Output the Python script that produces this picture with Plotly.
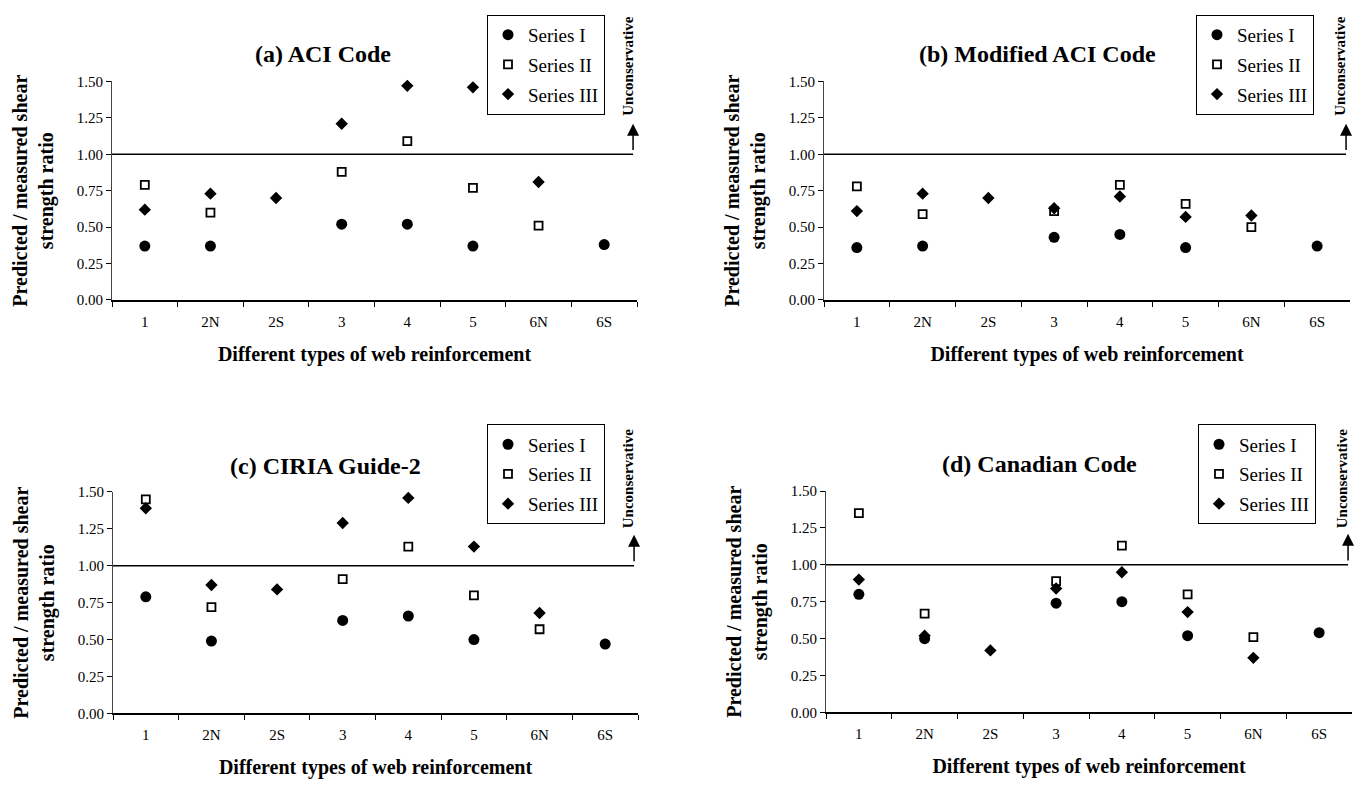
import plotly.graph_objects as go

# ---------------- data ----------------
categories = ["1", "2N", "2S", "3", "4", "5", "6N", "6S"]
series_names = ["Series I", "Series II", "Series III"]
panel_titles = ["(a) ACI Code", "(b) Modified ACI Code", "(c) CIRIA Guide-2", "(d) Canadian Code"]

aci_I = [0.37, 0.37, None, 0.52, 0.52, 0.37, None, 0.38]
aci_II = [0.79, 0.60, None, 0.88, 1.09, 0.77, 0.51, None]
aci_III = [0.62, 0.73, 0.70, 1.21, 1.47, 1.46, 0.81, None]

mod_aci_I = [0.36, 0.37, None, 0.43, 0.45, 0.36, None, 0.37]
mod_aci_II = [0.78, 0.59, None, 0.61, 0.79, 0.66, 0.50, None]
mod_aci_III = [0.61, 0.73, 0.70, 0.63, 0.71, 0.57, 0.58, None]

ciria_I = [0.79, 0.49, None, 0.63, 0.66, 0.50, None, 0.47]
ciria_II = [1.45, 0.72, None, 0.91, 1.13, 0.80, 0.57, None]
ciria_III = [1.39, 0.87, 0.84, 1.29, 1.46, 1.13, 0.68, None]

canadian_I = [0.80, 0.50, None, 0.74, 0.75, 0.52, None, 0.54]
canadian_II = [1.35, 0.67, None, 0.89, 1.13, 0.80, 0.51, None]
canadian_III = [0.90, 0.52, 0.42, 0.84, 0.95, 0.68, 0.37, None]

y_ticks = [0.0, 0.25, 0.5, 0.75, 1.0, 1.25, 1.5]
limit_ratio = 1.0

panels = [
    (aci_I, aci_II, aci_III),
    (mod_aci_I, mod_aci_II, mod_aci_III),
    (ciria_I, ciria_II, ciria_III),
    (canadian_I, canadian_II, canadian_III),
]

# ---------------- styling / layout ----------------
W, H = 1361, 790
SERIF = "Liberation Serif"
# plot boxes in pixels: left, right, top (y=1.5), bottom (y=0)
boxes = [(112, 637, 75, 298), (824, 1350, 75, 298), (113, 638, 494, 720), (826, 1352, 493, 719)]
title_pos = [(323, 47), (1037, 47), (325, 467), (1039, 465)]
legend_pos = [(605, 7), (1314, 7), (605, 425), (1316, 425)]
uncons_pos = [(628, 60), (1340, 60), (628, 481), (1342, 481)]

markers = [
    dict(symbol="circle", size=11, color="black"),
    dict(symbol="square-open", size=8, color="black", line=dict(width=1.8, color="black")),
    dict(symbol="diamond", size=9.5, color="black"),
]

fig = go.Figure()
layout = dict(
    width=W, height=H,
    margin=dict(l=0, r=0, t=0, b=0),
    paper_bgcolor="white", plot_bgcolor="white",
    font=dict(family=SERIF, color="black"),
    showlegend=True,
    shapes=[], annotations=[],
)

bounds = [k - 0.5 for k in range(len(categories) + 1)]
n_panels = len(panels)

for i, (vals, (l, r, t, b)) in enumerate(zip(panels, boxes)):
    sfx = "" if i == 0 else str(i + 1)
    xid, yid = "x" + sfx, "y" + sfx
    ox, oy = str(i + 1 + n_panels), str(i + 1 + n_panels)
    leg = "legend" + sfx

    for k, (name, v) in enumerate(zip(series_names, vals)):
        fig.add_trace(go.Scatter(
            x=categories, y=v, mode="markers", name=name,
            marker=markers[k], xaxis=xid, yaxis=yid, legend=leg,
            legendgroup=f"g{i}_{k}", cliponaxis=False, showlegend=True,
        ))

    layout["xaxis" + sfx] = dict(
        domain=[l / W, r / W], anchor=yid, type="category",
        categoryorder="array", categoryarray=categories,
        range=[-0.5, len(categories) - 0.5],
        tickson="boundaries", ticks="outside", ticklen=5, tickwidth=1, tickcolor="black",
        ticklabelstandoff=7,
        showline=True, linecolor="black", linewidth=1.5,
        showgrid=False, zeroline=False,
        tickfont=dict(size=15, family=SERIF, color="black"),
        title=dict(text="<b>Different types of web reinforcement</b>",
                   font=dict(size=20, family=SERIF, color="black"), standoff=18),
    )
    layout["yaxis" + sfx] = dict(
        domain=[1 - b / H, 1 - t / H], anchor=xid,
        range=[0, 1.5], tickmode="array", tickvals=y_ticks, tickformat=".2f",
        ticks="outside", ticklen=5, tickwidth=1, tickcolor="black",
        showline=True, linecolor="#444", linewidth=1,
        showgrid=False, zeroline=False,
        tickfont=dict(size=15, family=SERIF, color="black"),
        title=dict(text="<b>Predicted / measured shear<br>strength ratio</b>",
                   font=dict(size=20, family=SERIF, color="black"), standoff=17),
    )
    # overlay axes giving the inward half of the crossing tick marks
    layout["xaxis" + ox] = dict(
        overlaying=xid, anchor=yid, range=[-0.5, len(categories) - 0.5],
        tickmode="array", tickvals=bounds, ticks="inside", ticklen=5, tickwidth=1,
        tickcolor="black", showticklabels=False, showline=False, showgrid=False, zeroline=False,
    )
    layout["yaxis" + oy] = dict(
        overlaying=yid, anchor=xid, range=[0, 1.5], side="left",
        tickmode="array", tickvals=y_ticks, ticks="inside", ticklen=5, tickwidth=1,
        tickcolor="black", showticklabels=False, showline=False, showgrid=False, zeroline=False,
    )

    # reference line at ratio 1.0
    layout["shapes"].append(dict(
        type="line", xref=xid, yref=yid, x0=-0.5, x1=len(categories) - 0.56,
        y0=limit_ratio, y1=limit_ratio, line=dict(color="black", width=1.5),
    ))
    # arrow pointing to the unconservative side
    layout["annotations"].append(dict(
        xref=xid, yref=yid, axref=xid, ayref=yid,
        x=len(categories) - 0.56, y=1.21, ax=len(categories) - 0.56, ay=1.02,
        text="", showarrow=True, arrowhead=2, arrowsize=1.6, arrowwidth=1.5, arrowcolor="black",
    ))
    ux, uy = uncons_pos[i]
    layout["annotations"].append(dict(
        xref="paper", yref="paper", x=ux / W, y=1 - uy / H, text="<b>Unconservative</b>",
        textangle=-90, showarrow=False, xanchor="center", yanchor="middle",
        font=dict(size=15, family=SERIF, color="black"),
    ))
    tx, ty = title_pos[i]
    layout["annotations"].append(dict(
        xref="paper", yref="paper", x=tx / W, y=1 - ty / H, text=f"<b>{panel_titles[i]}</b>",
        showarrow=False, xanchor="center", yanchor="middle",
        font=dict(size=24, family=SERIF, color="black"),
    ))
    lx, ly = legend_pos[i]
    layout[leg] = dict(
        x=lx / W, y=1 - ly / H, xanchor="right", yanchor="top",
        bgcolor="white", bordercolor="black", borderwidth=1,
        font=dict(size=19, family=SERIF, color="black"),
        traceorder="grouped", tracegroupgap=2, itemwidth=30,
    )

fig.update_layout(**layout)
fig.write_html("out.html")
